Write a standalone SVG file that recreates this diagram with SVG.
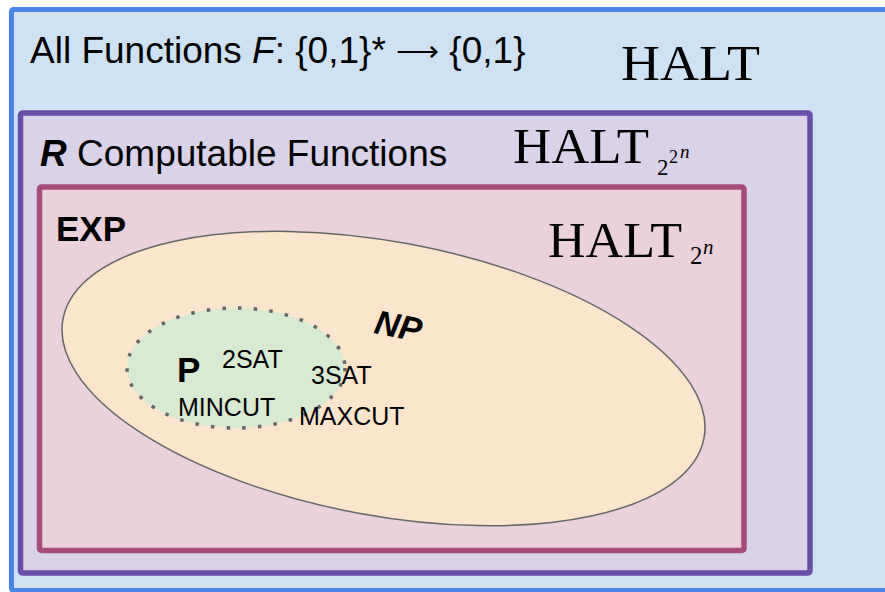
<svg xmlns="http://www.w3.org/2000/svg" width="885" height="592" viewBox="0 0 885 592">
<style>
.sans{font-family:"Liberation Sans",Arial,sans-serif;fill:#000}
.serif{font-family:"Liberation Serif","Times New Roman",serif;fill:#000}
.lbl{font-size:37px}
.item{font-size:25px}
.halt{font-size:51px}
</style>
<rect width="885" height="592" fill="#ffffff"/>
<g id="all-functions">
<rect x="11.5" y="9.5" width="880" height="581" rx="2" fill="#cfe2f3" stroke="#4a86e8" stroke-width="5"/>
<text class="sans lbl" x="30" y="63">All Functions <tspan font-style="italic">F</tspan>: {0,1}* <tspan font-size="30" dy="-2">⟶</tspan><tspan dy="2"> {0,1}</tspan></text>
<text class="serif halt" x="621" y="80" textLength="139" lengthAdjust="spacingAndGlyphs">HALT</text>
</g>
<g id="computable">
<rect x="20.5" y="113" width="789.5" height="460" rx="2" fill="#d9d2e9" stroke="#674ea7" stroke-width="5.5"/>
<text class="sans lbl" x="40" y="166"><tspan font-weight="bold" font-style="italic">R</tspan> Computable Functions</text>
<text class="serif halt" x="513" y="163" textLength="136" lengthAdjust="spacingAndGlyphs">HALT</text>
<text class="serif" font-size="23" x="657" y="175">2</text>
<text class="serif" font-size="18" x="669" y="163">2</text>
<text class="serif" font-size="19" font-style="italic" x="680" y="158">n</text>
</g>
<g id="exp">
<rect x="39.5" y="187" width="704.5" height="363.5" rx="2" fill="#ead1dc" stroke="#a64d79" stroke-width="5.5"/>
<text class="sans" font-size="35" font-weight="bold" x="56" y="241">EXP</text>
<text class="serif halt" x="548" y="257" textLength="134" lengthAdjust="spacingAndGlyphs">HALT</text>
<text class="serif" font-size="25" x="690" y="264">2</text>
<text class="serif" font-size="21" font-style="italic" x="703" y="254">n</text>
</g>
<g id="np">
<ellipse cx="383.5" cy="378.5" rx="326" ry="137" transform="rotate(10.5 383.5 378.5)" fill="#fce5cd" stroke="#666666" stroke-width="1.5"/>
<text class="sans" font-size="34" font-weight="bold" font-style="italic" transform="translate(373 333) rotate(11)">NP</text>
</g>
<g id="p">
<ellipse cx="236" cy="368" rx="109" ry="60" fill="#d9ead3" stroke="#666666" stroke-width="3.5" stroke-dasharray="3.5 12.2"/>
<text class="sans" font-size="35" font-weight="bold" x="177" y="382">P</text>
</g>
<g id="problems">
<text class="sans item" x="222" y="368">2SAT</text>
<text class="sans item" x="311" y="384">3SAT</text>
<text class="sans item" x="178" y="416">MINCUT</text>
<text class="sans item" x="299" y="425">MAXCUT</text>
</g>
</svg>
